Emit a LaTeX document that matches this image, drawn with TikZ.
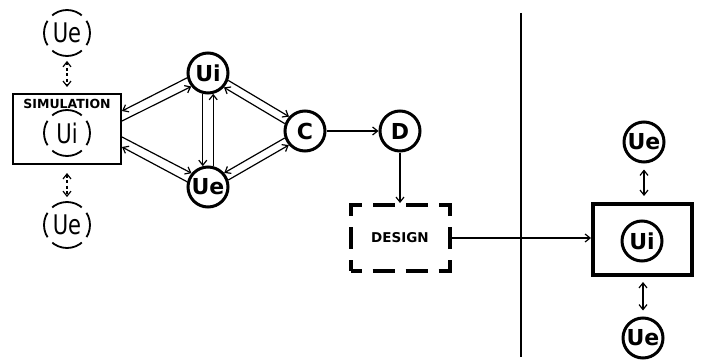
\documentclass[tikz,border=0pt]{standalone}
\usepackage{fontspec}
\setsansfont{DejaVu Sans}
\newfontfamily\tallsans[FakeStretch=0.78]{DejaVu Sans}
\usetikzlibrary{arrows.meta}
\begin{document}
\begin{tikzpicture}[x=1pt, y=-1pt, >={Straight Barb[length=5pt,width=8pt]},
	unit/.style={circle, draw, line width=3pt, minimum size=40pt, inner sep=0pt, font=\sffamily\bfseries\fontsize{22}{22}\selectfont},
	model/.style={circle, draw, line width=1.8pt, minimum size=46pt, inner sep=0pt, dash pattern=on 25.7pt off 7.2pt on 32.1pt off 7.2pt, dash phase=12.85pt, font=\tallsans\fontsize{27}{27}\selectfont},
	link/.style={->, line width=1.2pt},
	swap/.style={<->, line width=1.2pt}]
	\useasboundingbox (0,0) rectangle (701,361);
	\node[draw, line width=2pt, minimum width=108pt, minimum height=70pt] (sim) at (67,129) {};
	\node[font=\sffamily\bfseries\fontsize{12.5}{12.5}\selectfont] (simtext) at (67,104) {SIMULATION};
	\node[model] (simui) at (67,133) {Ui};
	\node[model] (uetop) at (67,33) {Ue};
	\node[model] (uebot) at (67,225) {Ue};
	\draw[swap, dash pattern=on 3pt off 2.5pt, shorten <=4pt, shorten >=6pt] (uetop) -- (sim);
	\draw[swap, dash pattern=on 3pt off 2.5pt, shorten <=8pt, shorten >=4pt] (sim) -- (uebot);
	\node[unit] (ui) at (208,73) {Ui};
	\node[unit] (ue) at (208,187) {Ue};
	\node[unit] (c) at (305,131) {C};
	\node[unit] (d) at (400,131) {D};
	\draw[link] (ui.193) -- ([yshift=18pt]sim.east);
	\draw[link] ([yshift=8pt]sim.east) -- (ui.219);
	\draw[link] ([yshift=-8pt]sim.east) -- (ue.140);
	\draw[link] (ue.166) -- ([yshift=-18pt]sim.east);
	\draw[link] (ui.256) -- (ue.104);
	\draw[link] (ue.76) -- (ui.284);
	\draw[link] (ui.-20) -- (c.138);
	\draw[link] (c.160) -- (ui.-42);
	\draw[link] (c.199) -- (ue.41);
	\draw[link] (ue.19) -- (c.221);
	\draw[link] (c) -- (d);
	\node[draw, line width=4pt, minimum width=99pt, minimum height=66pt, dash pattern=on 22pt off 11pt, dash phase=11pt, font=\sffamily\bfseries\fontsize{13.5}{13.5}\selectfont] (design) at (400,238) {DESIGN};
	\draw[link] (d) -- (design);
	\coordinate (top) at (521,13);
	\coordinate (bottom) at (521,357);
	\draw[line width=2.5pt] (top) -- (bottom);
	\node[draw, line width=4pt, minimum width=99pt, minimum height=71pt] (plant) at (642.5,239.5) {};
	\node[unit] (plantui) at (642,241) {Ui};
	\node[unit] (plantup) at (644,142) {Ue};
	\node[unit] (plantdown) at (643,338) {Ue};
	\draw[link] (design) -- (plant.west |- design);
	\draw[swap, shorten <=6pt, shorten >=6pt] (plantup) -- (plant.north -| plantup);
	\draw[swap, shorten <=5pt, shorten >=6pt] (plant.south -| plantdown) -- (plantdown);
\end{tikzpicture}
\end{document}
